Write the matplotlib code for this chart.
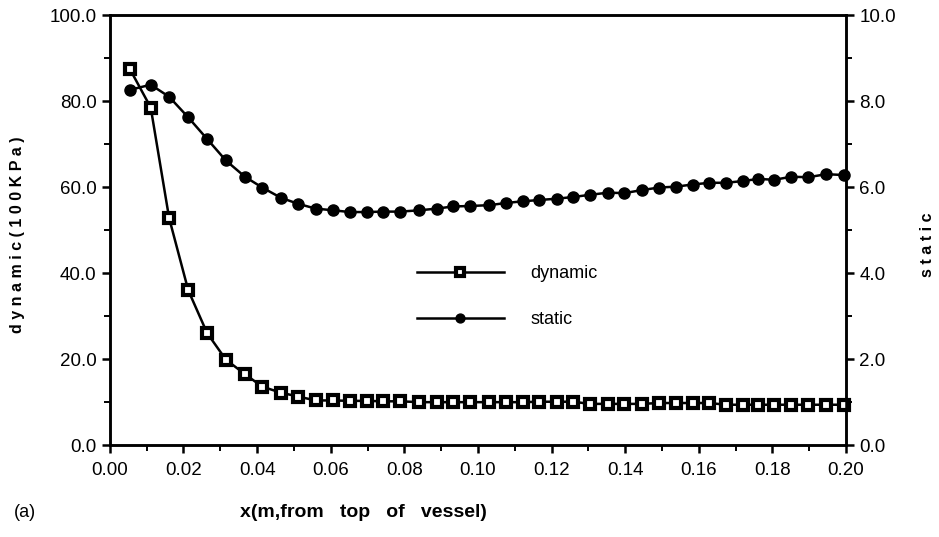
import matplotlib
matplotlib.use('Agg')
import matplotlib.pyplot as plt
from matplotlib.ticker import MultipleLocator, FormatStrFormatter

# x positions (m), shared by both series
x = [0.0054, 0.0111, 0.0161, 0.0213, 0.0264, 0.0315, 0.0367, 0.0414, 0.0465, 0.0512,
     0.0559, 0.0607, 0.0652, 0.0698, 0.0743, 0.0788, 0.0841, 0.0888, 0.0933, 0.0978,
     0.1031, 0.1076, 0.1122, 0.1167, 0.1214, 0.1259, 0.1304, 0.1353, 0.1398, 0.1445,
     0.1492, 0.1538, 0.1583, 0.1629, 0.1674, 0.1719, 0.1762, 0.1805, 0.1851, 0.1898,
     0.1946, 0.1995]

# dynamic pressure, left axis (100KPa)
dynamic = [87.5, 78.5, 52.8, 36.0, 26.1, 19.9, 16.5, 13.6, 12.2, 11.3,
           10.4, 10.4, 10.3, 10.3, 10.2, 10.2, 10.0, 10.0, 10.0, 10.0,
           10.0, 10.0, 10.0, 10.1, 10.1, 10.1, 9.6, 9.6, 9.6, 9.6,
           9.8, 9.8, 9.8, 9.8, 9.4, 9.4, 9.4, 9.4, 9.4, 9.4,
           9.4, 9.4]

# static pressure, right axis
static = [8.26, 8.38, 8.10, 7.62, 7.12, 6.62, 6.24, 5.99, 5.75, 5.61,
          5.50, 5.46, 5.42, 5.42, 5.43, 5.43, 5.46, 5.50, 5.55, 5.56,
          5.58, 5.63, 5.67, 5.70, 5.73, 5.77, 5.82, 5.87, 5.86, 5.93,
          5.99, 6.01, 6.06, 6.10, 6.10, 6.14, 6.19, 6.17, 6.24, 6.23,
          6.30, 6.28]

plt.rcParams['font.family'] = ['Liberation Sans', 'DejaVu Sans']

fig = plt.figure(figsize=(9.39, 5.37), dpi=100)
ax = fig.add_axes([0.117, 0.171, 0.784, 0.801])
ax2 = ax.twinx()

l1, = ax.plot(x, dynamic, color='black', lw=1.8, marker='s', markersize=7.5,
              markerfacecolor='white', markeredgecolor='black', markeredgewidth=3.0,
              label='dynamic', clip_on=False, zorder=3)
l2, = ax2.plot(x, static, color='black', lw=1.8, marker='o', markersize=8,
               markerfacecolor='black', markeredgecolor='black',
               label='static', clip_on=False, zorder=3)

ax.set_xlim(0, 0.2)
ax.set_ylim(0, 100)
ax2.set_ylim(0, 10)

ax.xaxis.set_major_locator(MultipleLocator(0.02))
ax.xaxis.set_minor_locator(MultipleLocator(0.01))
ax.xaxis.set_major_formatter(FormatStrFormatter('%.2f'))
ax.yaxis.set_major_locator(MultipleLocator(20))
ax.yaxis.set_minor_locator(MultipleLocator(10))
ax.yaxis.set_major_formatter(FormatStrFormatter('%.1f'))
ax2.yaxis.set_major_locator(MultipleLocator(2))
ax2.yaxis.set_minor_locator(MultipleLocator(1))
ax2.yaxis.set_major_formatter(FormatStrFormatter('%.1f'))

for a in (ax, ax2):
    for s in a.spines.values():
        s.set_linewidth(1.8)
    a.tick_params(which='major', direction='out', length=6, width=1.8, labelsize=13.5)
    a.tick_params(which='minor', direction='out', length=4, width=1.4)
ax.tick_params(axis='x', pad=6)

fig.text(0.019, 0.562, 'd y n a m i c ( 1 0 0 K P a )', fontsize=11.5, fontweight='bold',
         rotation=90, ha='center', va='center')
fig.text(0.988, 0.545, 's t a t i c', fontsize=11.5, fontweight='bold',
         rotation=90, ha='center', va='center')

fig.text(0.387, 0.045, 'x(m,from   top   of   vessel)', fontsize=14, fontweight='bold',
         ha='center', va='center')
fig.text(0.015, 0.045, '(a)', fontsize=13, ha='left', va='center')

fig.legend(handles=[l1, l2], loc='upper left', bbox_to_anchor=(0.444, 0.506),
           bbox_transform=fig.transFigure, frameon=False, borderpad=0, borderaxespad=0,
           handlelength=4.8, handletextpad=1.5, labelspacing=1.6,
           fontsize=13, markerscale=0.8)

fig.savefig('out.png', dpi=100)
